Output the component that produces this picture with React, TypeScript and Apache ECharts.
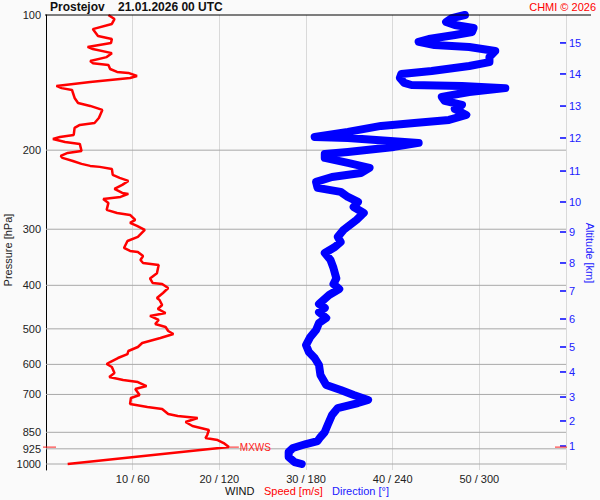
import React, { useEffect, useRef } from "react";
import * as echarts from "echarts";

// ---- data ----
const PRESSURE_LABELS = [100, 200, 300, 400, 500, 600, 700, 850, 925, 1000];
const PRESSURE_GRID = [200, 300, 400, 500, 600, 700, 850, 925, 1000];
const ALTITUDE_KM = [1, 2, 3, 4, 5, 6, 7, 8, 9, 10, 11, 12, 13, 14, 15];
const ALTITUDE_P = [912, 802, 709.3, 623.8, 548.8, 475.4, 411.8, 356.7, 304.3, 260.9, 222.6, 187.9, 159.5, 135.3, 115.4];
const SPEED_TICKS = [10, 20, 30, 40, 50];

const P_SPEED = [100, 102.1, 104.7, 107.5, 111.4, 113.1, 115.4, 117.8, 119.1, 121.6, 124.1, 126.6, 128.0, 129.2, 131.9, 133.9, 134.6, 136.7, 138.1, 141.0, 143.9, 145.5, 146.9, 153.0, 157.0, 159.4, 162.7, 169.6, 174.0, 175.7, 178.4, 185.0, 186.9, 188.8, 191.8, 193.7, 200.8, 202.9, 206.0, 208.1, 211.4, 214.6, 216.8, 217.9, 220.2, 227.1, 230.6, 234.2, 239.0, 244.0, 249.0, 250.3, 254.2, 256.8, 262.1, 271.7, 276.0, 278.8, 286.0, 290.4, 294.9, 301.0, 312.0, 318.7, 330.3, 335.4, 337.1, 344.2, 351.3, 356.7, 360.4, 376.0, 386.1, 395.2, 397.3, 405.5, 416.1, 427.0, 431.3, 442.5, 451.6, 461.0, 468.1, 477.8, 487.7, 495.3, 505.6, 513.4, 524.0, 537.7, 548.8, 560.2, 569.0, 580.7, 592.8, 598.8, 608.1, 627.1, 640.1, 650.1, 656.8, 670.5, 680.8, 702.1, 713.0, 735.2, 746.5, 754.3, 773.9, 781.9, 790.0, 806.3, 823.0, 840.1, 861.9, 875.3, 884.3, 898.0, 916.6, 1000];
const SPEED = [7.2, 7.9, 7.6, 5.4, 6.0, 7.6, 7.5, 4.8, 5.4, 7.6, 7.0, 5.1, 5.4, 7.2, 7.4, 8.2, 9.5, 10.5, 9.7, 5.1, 1.2, 1.8, 3.0, 3.3, 3.7, 5.1, 6.5, 6.1, 5.6, 3.9, 3.3, 3.2, 1.6, 0.8, 2.2, 3.9, 4.1, 2.5, 1.7, 1.9, 3.1, 4.1, 5.1, 6.2, 7.6, 7.7, 8.5, 9.5, 8.8, 7.9, 8.8, 9.5, 8.6, 6.6, 7.2, 7.0, 8.2, 9.7, 10.3, 9.7, 10.5, 11.4, 10.6, 9.4, 9.0, 9.7, 10.6, 11.2, 10.9, 11.2, 13.0, 12.8, 12.0, 12.3, 13.4, 14.1, 13.5, 12.8, 13.1, 13.4, 12.9, 13.8, 12.0, 13.0, 12.6, 13.8, 14.1, 14.7, 13.2, 11.1, 10.6, 9.5, 9.4, 8.3, 7.4, 7.0, 7.6, 7.9, 7.3, 8.9, 10.6, 11.6, 10.3, 10.8, 9.8, 9.7, 11.7, 13.4, 14.1, 15.2, 17.5, 16.1, 16.9, 18.8, 18.6, 18.4, 19.8, 20.5, 21.1, 2.5];

const P_DIR = [100, 101.6, 103.7, 105.3, 106.9, 109.1, 110.8, 113.1, 114.8, 116.6, 117.8, 120.3, 124.1, 127.3, 129.9, 133.3, 135.3, 138.1, 141.7, 143.2, 143.9, 145.5, 148.4, 152.2, 155.4, 158.6, 161.9, 167.0, 171.3, 174.0, 176.6, 182.1, 186.9, 187.9, 192.7, 196.7, 201.8, 203.9, 208.1, 213.5, 219.0, 224.8, 229.5, 235.4, 242.7, 247.7, 254.2, 260.8, 267.6, 276.0, 286.0, 301.0, 312.0, 320.4, 328.7, 339.0, 351.3, 365.9, 386.1, 397.3, 407.6, 420.4, 440.2, 449.1, 458.9, 473.0, 485.2, 503.0, 521.3, 543.3, 562.9, 580.7, 601.9, 633.6, 667.0, 684.3, 702.1, 720.3, 731.5, 750.5, 777.9, 818.8, 848.7, 870.8, 888.9, 902.7, 921.3, 940.4, 964.8, 989.9, 1000];
const DIRECTION = [290, 281, 277, 283, 296, 295, 283, 265, 258, 269, 293, 311, 307, 307, 293, 267, 246, 245, 248, 253, 288, 318, 293, 274, 276, 288, 283, 291, 279, 255, 232, 209, 186, 209, 258, 241, 209, 193, 193, 209, 224, 218, 198, 187, 188, 204, 209, 216, 213, 220, 215, 206, 202, 204, 200, 193, 197, 199, 201, 199, 203, 196, 189, 193, 189, 194, 189, 187, 183, 180, 182, 186, 189, 190, 194, 204, 213, 223, 216, 202, 198, 195, 193, 190, 188, 180, 171, 168, 168, 172, 177];

const MAX_WIND_P = 917;
const MAX_WIND_SPEED = 21.1;

const FONT = "Liberation Sans";
const lp = (p: number) => Math.log10(p);
const Y_MIN = 2;
const Y_MAX = 2 + 455 / 449;

export default function App() {
  const ref = useRef<HTMLDivElement>(null);
  useEffect(() => {
    const chart = echarts.init(ref.current!, null, { renderer: "svg" });
    const option: any = {
      animation: false,
      backgroundColor: "#fafafa",
      grid: { left: 46, right: 34, top: 15, bottom: 30, containLabel: false },
      xAxis: [
        {
          type: "value",
          min: 0,
          max: 60,
          interval: 10,
          axisLine: { show: false },
          axisTick: { show: false },
          splitLine: { show: true, lineStyle: { color: "#d9d9d9", width: 1 } },
          axisLabel: {
            margin: 3,
            color: "#222",
            fontSize: 11,
            fontFamily: FONT,
            formatter: (v: number) => (SPEED_TICKS.includes(v) ? `${v} / ${v * 6}` : ""),
          },
        },
        { type: "value", min: 0, max: 360, show: false },
      ],
      yAxis: [
        {
          type: "value",
          min: Y_MIN,
          max: Y_MAX,
          inverse: true,
          position: "left",
          axisLine: { show: true, lineStyle: { color: "#000", width: 1 } },
          axisTick: { show: false },
          splitLine: { show: false },
          axisLabel: {
            customValues: PRESSURE_LABELS.map(lp),
            formatter: (v: number) => String(Math.round(Math.pow(10, v))),
            color: "#222",
            fontSize: 11,
            fontFamily: FONT,
            margin: 5,
          },
        },
        {
          type: "value",
          min: Y_MIN,
          max: Y_MAX,
          inverse: true,
          position: "right",
          axisLine: { show: false },
          axisTick: { show: false },
          axisLabel: { show: false },
          splitLine: { show: false },
        },
      ],
      graphic: [
        {
          type: "line",
          shape: { x1: 45, y1: 15, x2: 591, y2: 15 },
          style: { stroke: "#000", lineWidth: 1 },
          z: 10,
        },
        {
          type: "text",
          x: 8,
          y: 250,
          rotation: Math.PI / 2,
          style: { text: "Pressure [hPa]", fill: "#222", fontSize: 11, fontFamily: FONT, align: "center", verticalAlign: "middle" },
        },
        {
          type: "text",
          x: 590,
          y: 253,
          rotation: -Math.PI / 2,
          style: { text: "Altitude [km]", fill: "#2020ff", fontSize: 11, fontFamily: FONT, align: "center", verticalAlign: "middle" },
        },
        {
          type: "text",
          x: 50,
          y: 7,
          style: { text: "Prostejov    21.01.2026 00 UTC", fill: "#111", fontSize: 12, fontWeight: "bold", fontFamily: FONT, align: "left", verticalAlign: "middle" },
        },
        {
          type: "text",
          x: 596,
          y: 7,
          style: { text: "CHMI © 2026", fill: "#ff0000", fontSize: 11, fontFamily: FONT, align: "right", verticalAlign: "middle" },
        },
        {
          type: "text",
          x: 225,
          y: 491,
          style: { text: "WIND", fill: "#111", fontSize: 11, fontFamily: FONT, align: "left", verticalAlign: "middle" },
        },
        {
          type: "text",
          x: 264,
          y: 491,
          style: { text: "Speed [m/s]", fill: "#ff0000", fontSize: 11, fontFamily: FONT, align: "left", verticalAlign: "middle" },
        },
        {
          type: "text",
          x: 332,
          y: 491,
          style: { text: "Direction [°]", fill: "#2020ff", fontSize: 11, fontFamily: FONT, align: "left", verticalAlign: "middle" },
        },
      ],
      series: [
        {
          type: "custom",
          name: "pressureGrid",
          xAxisIndex: 0,
          yAxisIndex: 0,
          z: 1,
          silent: true,
          data: PRESSURE_GRID.map((p) => [0, lp(p)]),
          renderItem: (params: any, api: any) => {
            const pt = api.coord([0, api.value(1)]);
            const cs = params.coordSys;
            return {
              type: "line",
              shape: { x1: cs.x, y1: pt[1], x2: cs.x + cs.width, y2: pt[1] },
              style: { stroke: "#a8a8a8", lineWidth: 1 },
            };
          },
        },
        {
          type: "custom",
          name: "altitude",
          xAxisIndex: 0,
          yAxisIndex: 0,
          z: 2,
          silent: true,
          data: ALTITUDE_P.map((p, i) => [60, lp(p), ALTITUDE_KM[i]]),
          renderItem: (params: any, api: any) => {
            const pt = api.coord([api.value(0), api.value(1)]);
            const km = api.value(2);
            return {
              type: "group",
              children: [
                { type: "line", shape: { x1: pt[0] - 6, y1: pt[1], x2: pt[0], y2: pt[1] }, style: { stroke: "#0000ff", lineWidth: 1.5 } },
                {
                  type: "text",
                  x: pt[0] + 3,
                  y: pt[1],
                  style: { text: String(km), fill: "#2020ff", fontSize: 11, fontFamily: FONT, align: "left", verticalAlign: "middle" },
                },
              ],
            };
          },
        },
        {
          type: "line",
          name: "Direction",
          xAxisIndex: 1,
          yAxisIndex: 0,
          z: 3,
          clip: false,
          showSymbol: false,
          data: DIRECTION.map((d, i) => [d, lp(P_DIR[i])]),
          lineStyle: { color: "#0000ff", width: 8, cap: "round", join: "round" },
        },
        {
          type: "line",
          name: "Speed",
          xAxisIndex: 0,
          yAxisIndex: 0,
          z: 4,
          clip: false,
          showSymbol: false,
          data: SPEED.map((s, i) => [s, lp(P_SPEED[i])]),
          lineStyle: { color: "#ff0000", width: 2.5 },
        },
        {
          type: "custom",
          name: "MXWS",
          xAxisIndex: 0,
          yAxisIndex: 0,
          z: 5,
          silent: true,
          data: [[MAX_WIND_SPEED, lp(MAX_WIND_P)]],
          renderItem: (params: any, api: any) => {
            const pt = api.coord([api.value(0), api.value(1)]);
            const cs = params.coordSys;
            const y = pt[1];
            const red = "#ff2020";
            return {
              type: "group",
              children: [
                { type: "line", shape: { x1: cs.x - 3, y1: y, x2: cs.x + 10, y2: y }, style: { stroke: red, lineWidth: 1 } },
                { type: "line", shape: { x1: pt[0], y1: y, x2: pt[0] + 10, y2: y }, style: { stroke: red, lineWidth: 1 } },
                {
                  type: "text",
                  x: pt[0] + 11,
                  y: y,
                  style: { text: "MXWS", fill: red, fontSize: 10, fontFamily: FONT, align: "left", verticalAlign: "middle" },
                },
                { type: "line", shape: { x1: cs.x + cs.width - 11, y1: y, x2: cs.x + cs.width + 1, y2: y }, style: { stroke: red, lineWidth: 1 } },
              ],
            };
          },
        },
      ],
    };
    chart.setOption(option);
    return () => chart.dispose();
  }, []);
  return (
    <div
      ref={ref}
      style={{ position: "fixed", left: 0, top: 0, width: 600, height: 500 }}
    />
  );
}
